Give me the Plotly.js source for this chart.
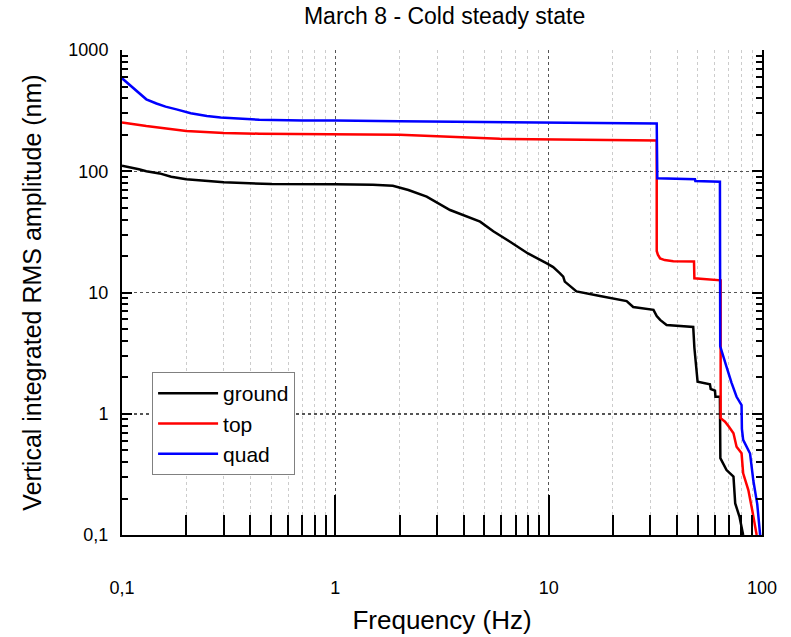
<!DOCTYPE html>
<html>
<head>
<meta charset="utf-8">
<script src="https://cdn.plot.ly/plotly-3.0.1.min.js"></script>
<style>html,body{margin:0;padding:0;background:#fff;}#chart{width:791px;height:637px;}</style>
</head>
<body>
<div id="chart"></div>
<script>
// ---- data ----
const seriesNames = ["ground", "top", "quad"];

const groundX = [0.1, 0.11, 0.12, 0.13, 0.15, 0.17, 0.2, 0.3, 0.5, 1, 1.5, 1.86, 2.2, 2.68, 3.45, 4.77, 5.5, 6.59, 8, 9.8, 10.5, 11.3, 11.7, 11.9, 12.6, 13.5, 17.4, 23.2, 24.9, 31, 32.1, 33.3, 35.7, 47.6, 48.2, 49.9, 57, 57.5, 60.2, 60.5, 63.5, 63.8, 68.2, 73.5, 74.9, 78.4, 81.6];
const groundY = [111, 108, 104, 100, 96, 90, 86, 81, 78.5, 78, 77.5, 76, 70, 61.7, 47.9, 38.4, 32, 26.2, 21, 17.4, 16.2, 14.4, 13.5, 12.3, 11.2, 10.2, 9.35, 8.5, 7.6, 7.2, 6.4, 5.94, 5.4, 5.2, 3.5, 1.84, 1.75, 1.6, 1.55, 1.38, 1.38, 0.43, 0.343, 0.303, 0.182, 0.142, 0.1];

const topX = [0.1, 0.13, 0.2, 0.3, 0.44, 1, 2, 5.9, 15, 32.1, 32.1, 32.5, 33.3, 35, 38.4, 48, 48.2, 55, 63.1, 64, 64, 67.1, 70, 73.5, 76, 80.2, 81.6, 86.3, 90, 94.4];
const topY = [253, 236, 215, 207, 204, 202, 200, 185, 181, 179, 22, 20.5, 19.1, 18.5, 18.1, 18, 13.1, 12.9, 12.7, 12.6, 0.92, 0.86, 0.78, 0.69, 0.534, 0.472, 0.323, 0.235, 0.16, 0.1];

const quadX = [0.1, 0.115, 0.13, 0.145, 0.16, 0.18, 0.21, 0.25, 0.29, 0.35, 0.44, 0.7, 1, 2, 5, 10, 20, 32.1, 32.3, 40, 48.5, 48.7, 63.5, 63.7, 66, 68.2, 72, 76, 80.2, 80.5, 81.6, 87.9, 91.1, 95, 98];
const quadY = [585, 470, 392, 362, 341, 324, 301, 286, 277, 272, 266, 262, 262, 258, 255, 252, 250, 248, 87.5, 87, 86, 83, 82, 3.6, 3.0, 2.44, 1.8, 1.38, 1.18, 0.75, 0.61, 0.47, 0.28, 0.18, 0.1];

const seriesColors = ["#000000", "#ff0000", "#0000ff"];

const xTickVals = [0.1, 1, 10, 100];
const xTickText = ["0,1", "1", "10", "100"];
const yTickVals = [0.1, 1, 10, 100, 1000];
const yTickText = ["0,1", "1", "10", "100", "1000"];

// minor tick positions (2..9 of each decade)
function minorVals(lo, hi) {
  const out = [];
  for (let d = lo; d < hi; d++) {
    for (let m = 2; m <= 9; m++) out.push(m * Math.pow(10, d));
  }
  return out;
}
const xMinor = minorVals(-1, 2);
const yMinor = minorVals(-1, 3);

const FONT = "Liberation Sans, Arial, sans-serif";
const NB = "\u00a0";

const xs = [groundX, topX, quadX];
const ys = [groundY, topY, quadY];
const traces = seriesNames.map((n, i) => ({
  type: "scatter", mode: "lines", name: n,
  x: xs[i], y: ys[i],
  line: {color: seriesColors[i], width: 2.5}
}));

const layout = {
  width: 791, height: 637,
  paper_bgcolor: "#ffffff", plot_bgcolor: "#ffffff",
  margin: {l: 122, r: 29, t: 50, b: 102},
  showlegend: true,
  title: {text: "March 8 - Cold steady state", font: {family: FONT, size: 23, color: "#000"},
          x: 0.504, xref: "paper", xanchor: "center", y: 0.975, yref: "container", yanchor: "middle"},
  xaxis: {
    type: "log", range: [-1, 2],
    tickvals: xTickVals, ticktext: xTickText,
    ticks: "inside", ticklen: 40, tickwidth: 2, tickcolor: "#000",
    ticklabelstandoff: 35,
    tickfont: {family: FONT, size: 18, color: "#000"},
    showline: true, linecolor: "#000", linewidth: 2, mirror: false,
    showgrid: true, gridcolor: "#555", griddash: "dot", gridwidth: 1.5,
    zeroline: false,
    minor: {tickvals: xMinor, ticks: "inside", ticklen: 20, tickwidth: 2, tickcolor: "#000",
            showgrid: true, gridcolor: "#cccccc", griddash: "dot", gridwidth: 1},
    title: {text: NB + NB + NB + "Frequency (Hz)", font: {family: FONT, size: 26, color: "#000"}, standoff: 14}
  },
  xaxis2: {
    type: "log", range: [-1, 2], overlaying: "x", side: "top", anchor: "y",
    tickvals: xTickVals, showticklabels: false,
    ticks: "inside", ticklen: 5, tickwidth: 2, tickcolor: "#000",
    showline: true, linecolor: "#000", linewidth: 2,
    showgrid: false, zeroline: false,
    minor: {tickvals: xMinor, ticks: "inside", ticklen: 5, tickwidth: 2, tickcolor: "#000", showgrid: false}
  },
  yaxis: {
    type: "log", range: [-1, 3],
    tickvals: yTickVals, ticktext: yTickText,
    ticks: "inside", ticklen: 10, tickwidth: 2, tickcolor: "#000",
    ticklabelstandoff: 8,
    tickfont: {family: FONT, size: 18, color: "#000"},
    showline: true, linecolor: "#000", linewidth: 2, mirror: "allticks",
    showgrid: true, gridcolor: "#555", griddash: "dot", gridwidth: 1.5,
    zeroline: false,
    minor: {tickvals: yMinor, ticks: "inside", ticklen: 6, tickwidth: 2, tickcolor: "#000", showgrid: false},
    title: {text: "Vertical integrated RMS amplitude (nm)" + NB + NB + NB + NB, font: {family: FONT, size: 25, color: "#000"}, standoff: 20}
  },
  legend: {
    x: 0.047, y: 0.336, xanchor: "left", yanchor: "top",
    bgcolor: "#ffffff", bordercolor: "#808080", borderwidth: 1,
    font: {family: FONT, size: 21, color: "#000"},
    itemwidth: 60, tracegroupgap: 0
  }
};

Plotly.newPlot("chart", traces, layout, {displayModeBar: false, staticPlot: true});
</script>
</body>
</html>
